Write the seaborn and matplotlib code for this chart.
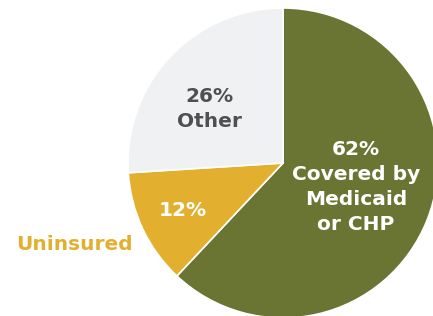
import matplotlib
matplotlib.use("Agg")
import matplotlib.pyplot as plt
import seaborn as sns

sns.set_theme(style="white")
plt.rcParams['font.family'] = ['DejaVu Sans']

labels = ["Covered by\nMedicaid\nor CHP", "Uninsured", "Other"]
values = [62, 12, 26]
colors = ["#6b7533", "#e3af2e", "#f0f1f3"]

W, H = 433, 316
fig = plt.figure(figsize=(W / 100, H / 100), dpi=100)
ax = fig.add_axes([0, 0, 1, 1])
R = 155.0
cx, cy = 283.0, 163.0

wedges, _ = ax.pie(values, colors=colors, startangle=90, counterclock=False,
                   radius=1.0, wedgeprops=dict(edgecolor="white", linewidth=1.2))
ax.set_xlim(-cx / R, (W - cx) / R)
ax.set_ylim(-(H - cy) / R, cy / R)
ax.set_aspect("equal", adjustable="datalim")
ax.axis("off")

def px(x, y):
    return ((x - cx) / R, (cy - y) / R)

fs = 14.5
ls = 1.38
ax.text(*px(356, 187), f"{values[0]}%\n{labels[0]}", ha="center", va="center",
        color="white", fontsize=fs, fontweight="bold", linespacing=ls)
ax.text(*px(209, 109), f"{values[2]}%\n{labels[2]}", ha="center", va="center",
        color="#505052", fontsize=fs, fontweight="bold", linespacing=ls)
ax.text(*px(183, 211), f"{values[1]}%", ha="center", va="center",
        color="white", fontsize=fs, fontweight="bold")
ax.text(*px(74, 244), labels[1], ha="center", va="center",
        color="#e3af2e", fontsize=fs, fontweight="bold")

fig.savefig("out.png", dpi=100)
